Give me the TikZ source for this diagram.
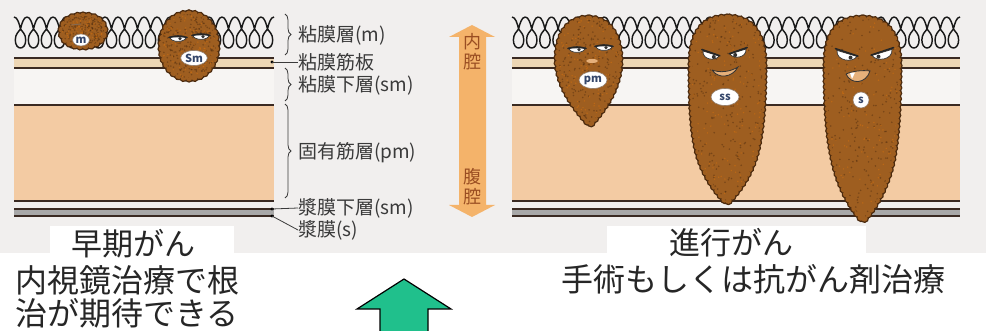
\documentclass[tikz,border=0pt]{standalone}
\usepackage{fontspec}
\setmainfont{Noto Sans CJK JP}
\usetikzlibrary{decorations.markings,decorations.pathreplacing,shapes.geometric}

\definecolor{paper}{HTML}{F1EFEE}
\definecolor{submuc}{HTML}{F7F5F3}
\definecolor{mmband}{HTML}{EDD6B4}
\definecolor{muscle}{HTML}{F3CBA3}
\definecolor{wallline}{HTML}{3A2A22}
\definecolor{serosa}{HTML}{A8A8A8}
\definecolor{tumor}{HTML}{9E5E20}
\definecolor{tumoredge}{HTML}{4B2A0E}
\definecolor{badgeink}{HTML}{34466A}
\definecolor{lumen}{HTML}{F4B36A}
\definecolor{lumenink}{HTML}{9A4E22}
\definecolor{upgreen}{HTML}{20C08C}
\definecolor{labelink}{HTML}{3A3A3A}
\definecolor{mouth}{HTML}{E6B07A}

\tikzset{
  wall/.style={draw=wallline, line width=1.4pt},
  villus/.style={draw=black!90, line width=1.45pt},
  darkbumps/.style={decoration={markings, mark=between positions 0 and 1 step 5.5pt
      with {\fill[tumoredge] (0,0) circle[radius=4.7pt];}}, decorate},
  lightbumps/.style={decoration={markings, mark=between positions 0 and 1 step 5.5pt
      with {\fill[tumor] (0,0) circle[radius=3.3pt];}}, decorate},
  badge/.style={ellipse, fill=white, draw=tumoredge!60, line width=0.6pt,
    inner sep=0.5pt, text=badgeink, font=\fontsize{11}{12}\selectfont\bfseries},
  layerlabel/.style={anchor=west, text=labelink, inner sep=0pt,
    font=\fontsize{19}{22}\selectfont},
  brace/.style={draw=labelink, line width=0.8pt, decorate,
    decoration={brace, amplitude=6pt}},
  leader/.style={draw=labelink, line width=0.8pt},
  title/.style={text=black!85, inner sep=0pt, font=\fontsize{31}{34}\selectfont},
  eyewhite/.style={fill=white, draw=black!80, line width=0.7pt},
  lid/.style={draw=black!85, line width=1.6pt, line cap=round},
  pupil/.style={fill=black!80},
}

% One section of the bowel wall between x=#1 and x=#2,
% with #3 villi across the mucosa
\newcommand\wallsection[3]{%
  \fill[mmband] (#1,58) rectangle (#2,68);
  \fill[submuc] (#1,68) rectangle (#2,105);
  \fill[muscle] (#1,105) rectangle (#2,201);
  \fill[serosa] (#1,209) rectangle (#2,216);
  \draw[wall] (#1,58) -- (#2,58);
  \draw[wall] (#1,68) -- (#2,68);
  \draw[wall] (#1,105) -- (#2,105);
  \draw[wall] (#1,201) -- (#2,201);
  \draw[wall] (#1,209) -- (#2,209);
  \draw[wall] (#1,216) -- (#2,216);
  \pgfmathsetmacro\vp{(#2-#1)/#3}
  \foreach \k in {1,...,#3}{
    \pgfmathsetmacro\cx{#1+\vp*(\k-0.5)}
    \draw[villus] ({\cx-\vp/2},17) .. controls ({\cx-3},17) and ({\cx-1.2},24) .. (\cx,29)
      .. controls ({\cx+2},32) and ({\cx+5.2},34) .. ({\cx+5.2},40)
      .. controls ({\cx+5.2},45) and ({\cx+2.8},48) .. (\cx,48)
      .. controls ({\cx-2.8},48) and ({\cx-5.2},45) .. ({\cx-5.2},40)
      .. controls ({\cx-5.2},34) and ({\cx-2},32) .. (\cx,29)
      .. controls ({\cx+1.2},24) and ({\cx+3},17) .. ({\cx+\vp/2},17);
  }%
}

% A tumour: scalloped outline round path #1, speckled inside;
% #2,#3 centre and #4,#5 half extents of the speckled area
\newcommand\growth[5]{%
  \path[darkbumps] #1;
  \path[lightbumps] #1;
  \fill[tumor] #1;
  \begin{scope}
    \clip #1;
    \foreach \i in {1,...,260}{
      \pgfmathsetmacro\sx{#2+#4*rand}
      \pgfmathsetmacro\sy{#3+#5*rand}
      \fill[tumoredge, opacity=0.45] (\sx,\sy) circle[radius=0.9pt];
    }
    \foreach \i in {1,...,140}{
      \pgfmathsetmacro\sx{#2+#4*rand}
      \pgfmathsetmacro\sy{#3+#5*rand}
      \fill[orange!60!tumor, opacity=0.5] (\sx,\sy) circle[radius=0.8pt];
    }
  \end{scope}
}

% Half-closed eye under a heavy lid: centre #1,#2, half width #3, depth #4
\newcommand\sleepyeye[4]{%
  \draw[eyewhite] ({#1-#3},#2) .. controls ({#1-#3},{#2+#4*1.3}) and ({#1+#3},{#2+#4*1.3}) .. ({#1+#3},#2) -- cycle;
  \fill[pupil] ({#1+#3*0.25},{#2+1.6}) circle[radius=1.8];
  \draw[lid] ({#1-#3-1},{#2+0.5}) .. controls ({#1-#3*0.3},{#2-1.5}) and ({#1+#3*0.3},{#2-1.5}) .. ({#1+#3+1},{#2+0.5});
}

% Slanted eye; #5=1 slopes down to the right, #5=-1 down to the left
\newcommand\angryeye[5]{%
  \draw[eyewhite] ({#1-#3*#5},{#2-#4*0.6}) -- ({#1+#3*#5},{#2+#4*0.4})
    .. controls ({#1+#3*#5*0.6},{#2+#4*1.5}) and ({#1-#3*#5*1.1},{#2+#4*1.2}) .. cycle;
  \fill[pupil] ({#1+#3*#5*0.35},{#2+#4*0.6}) circle[radius=2];
  \draw[lid] ({#1-#3*#5*1.15},{#2-#4*0.9}) -- ({#1+#3*#5*1.1},{#2+#4*0.35});
}

\begin{document}
\begin{tikzpicture}[x=1pt, y=-1pt]
  \clip (0,0) rectangle (986,331);
  \fill[white] (0,0) rectangle (986,331);
  \fill[paper] (0,0) rectangle (986,253);
  \pgfmathsetseed{4211}

  % ---- bowel wall, early cancer ----
  \wallsection{14}{274}{20}

  % tumour confined to the mucosa
  \growth{(83,16) .. controls (97,16) and (104,23) .. (104,31)
    .. controls (104,40) and (95,46) .. (83,46)
    .. controls (70,46) and (62,40) .. (62,31)
    .. controls (62,23) and (69,16) .. (83,16)}{83}{31}{24}{17}
  \draw[tumoredge!70, line width=0.8pt] (71,25) -- (81,24);
  \node[badge, minimum width=12pt, minimum height=12pt] (bm) at (81,40) {m};

  % tumour reaching the submucosa
  \growth{(189,14) .. controls (206,14) and (216,29) .. (216,46)
    .. controls (216,64) and (205,78) .. (189,78)
    .. controls (173,78) and (162,64) .. (162,46)
    .. controls (162,29) and (172,14) .. (189,14)}{189}{46}{29}{34}
  \sleepyeye{178}{37}{8}{4.5}
  \sleepyeye{201}{35}{8}{4.5}
  \node[badge, minimum width=26pt, minimum height=15pt] (bsm) at (194,58) {Sm};

  % layer names with braces and leaders
  \draw[brace] (285,14) -- (285,55);
  \draw[brace] (285,68) -- (285,101);
  \draw[brace] (285,104) -- (285,198);
  \node[layerlabel] (lm) at (298,35) {粘膜層(m)};
  \node[layerlabel] (lmm) at (298,62) {粘膜筋板};
  \node[layerlabel] (lsm) at (298,85) {粘膜下層(sm)};
  \node[layerlabel] (lpm) at (298,153) {固有筋層(pm)};
  \node[layerlabel] (lss) at (298,208) {漿膜下層(sm)};
  \node[layerlabel] (ls) at (298,230) {漿膜(s)};
  \coordinate (dmm) at (272,62);
  \coordinate (dss) at (272,209);
  \coordinate (ds) at (272,216);
  \foreach \d in {dmm,dss,ds} \fill[black] (\d) circle[radius=1.7];
  \draw[leader] (dmm) -- (lmm.west);
  \draw[leader] (dss) -- (lss.west);
  \draw[leader] (ds) -- (ls.west);

  % lumen / abdominal cavity arrow
  \fill[lumen] (472,25) -- (495,37) -- (486,37) -- (486,205) -- (495,205)
    -- (472,217) -- (449,205) -- (459,205) -- (459,37) -- (449,37) -- cycle;
  \node[text=lumenink, align=center, inner sep=0pt,
    font=\fontsize{18}{20}\selectfont] (lumentxt) at (472,52) {内\\腔};
  \node[text=lumenink, align=center, inner sep=0pt,
    font=\fontsize{18}{20}\selectfont] (cavitytxt) at (472,187) {腹\\腔};

  % ---- bowel wall, advanced cancer ----
  \wallsection{512}{960}{34}

  % tumour into the muscularis propria
  \growth{(588,19) .. controls (567,19) and (558,37) .. (558,60)
    .. controls (559,88) and (578,110) .. (590,124)
    .. controls (602,110) and (619,88) .. (619,60)
    .. controls (619,37) and (609,19) .. (588,19)}{589}{70}{32}{56}
  \sleepyeye{577}{48}{8}{4.5}
  \sleepyeye{604}{46}{8}{4.5}
  \fill[mouth] (592,61) ellipse[x radius=6, y radius=2];
  \node[badge, minimum width=28pt, minimum height=17pt] (bpm) at (593,80) {pm};

  % tumour into the subserosa
  \growth{(727,18) .. controls (703,18) and (692,34) .. (692,65)
    .. controls (692,100) and (693,125) .. (697,145)
    .. controls (702,172) and (716,190) .. (727,202)
    .. controls (738,190) and (752,172) .. (757,145)
    .. controls (761,125) and (763,100) .. (763,65)
    .. controls (763,34) and (751,18) .. (727,18)}{727}{110}{38}{95}
  \angryeye{711}{54}{8}{5}{1}
  \angryeye{738}{52}{8}{5}{-1}
  \path[fill=mouth, draw=black!80, line width=0.8pt] (712,70) .. controls (720,73) and (730,72) .. (738,67)
    .. controls (732,78) and (718,79) .. (712,70);
  \node[badge, minimum width=28pt, minimum height=17pt] (bss) at (725,97) {ss};

  % tumour through the serosa
  \growth{(862,19) .. controls (838,19) and (827,34) .. (827,65)
    .. controls (827,105) and (829,135) .. (834,158)
    .. controls (840,188) and (853,208) .. (863,220)
    .. controls (873,208) and (886,188) .. (892,158)
    .. controls (896,135) and (898,105) .. (898,65)
    .. controls (898,34) and (886,19) .. (862,19)}{862}{120}{38}{104}
  \angryeye{847}{54}{10}{6}{1}
  \angryeye{882}{53}{10}{6}{-1}
  \path[fill=mouth, draw=black!80, line width=0.8pt] (846,74) .. controls (853,71) and (862,70) .. (870,71)
    .. controls (866,84) and (851,85) .. (846,74);
  \fill[white] (850,73) -- (855,72.5) -- (852,79) -- cycle;
  \node[badge, minimum width=16pt, minimum height=16pt] (bs) at (861,100) {s};

  % ---- captions ----
  \fill[white] (50,226) rectangle (234,262);
  \fill[white] (607,226) rectangle (866,262);
  \node[title] (early) at (133,244) {早期がん};
  \node[title] (advanced) at (731,243) {進行がん};
  \node[anchor=west, align=left, inner sep=0pt, text=black!85,
    font=\fontsize{32}{33}\selectfont] (endo) at (15,297) {内視鏡治療で根\\治が期待できる};
  \node[text=black!85, inner sep=0pt, font=\fontsize{32}{34}\selectfont]
    (surgery) at (753,279) {手術もしくは抗がん剤治療};

  % upward arrow between the captions
  \fill[upgreen] (404,279) -- (451,309) -- (428,309) -- (428,332)
    -- (380,332) -- (380,309) -- (357,309) -- cycle;
  \draw[black, line width=1.2pt, line join=miter] (428,332) -- (428,309) -- (451,309)
    -- (404,279) -- (357,309) -- (380,309) -- (380,332);
\end{tikzpicture}
\end{document}
